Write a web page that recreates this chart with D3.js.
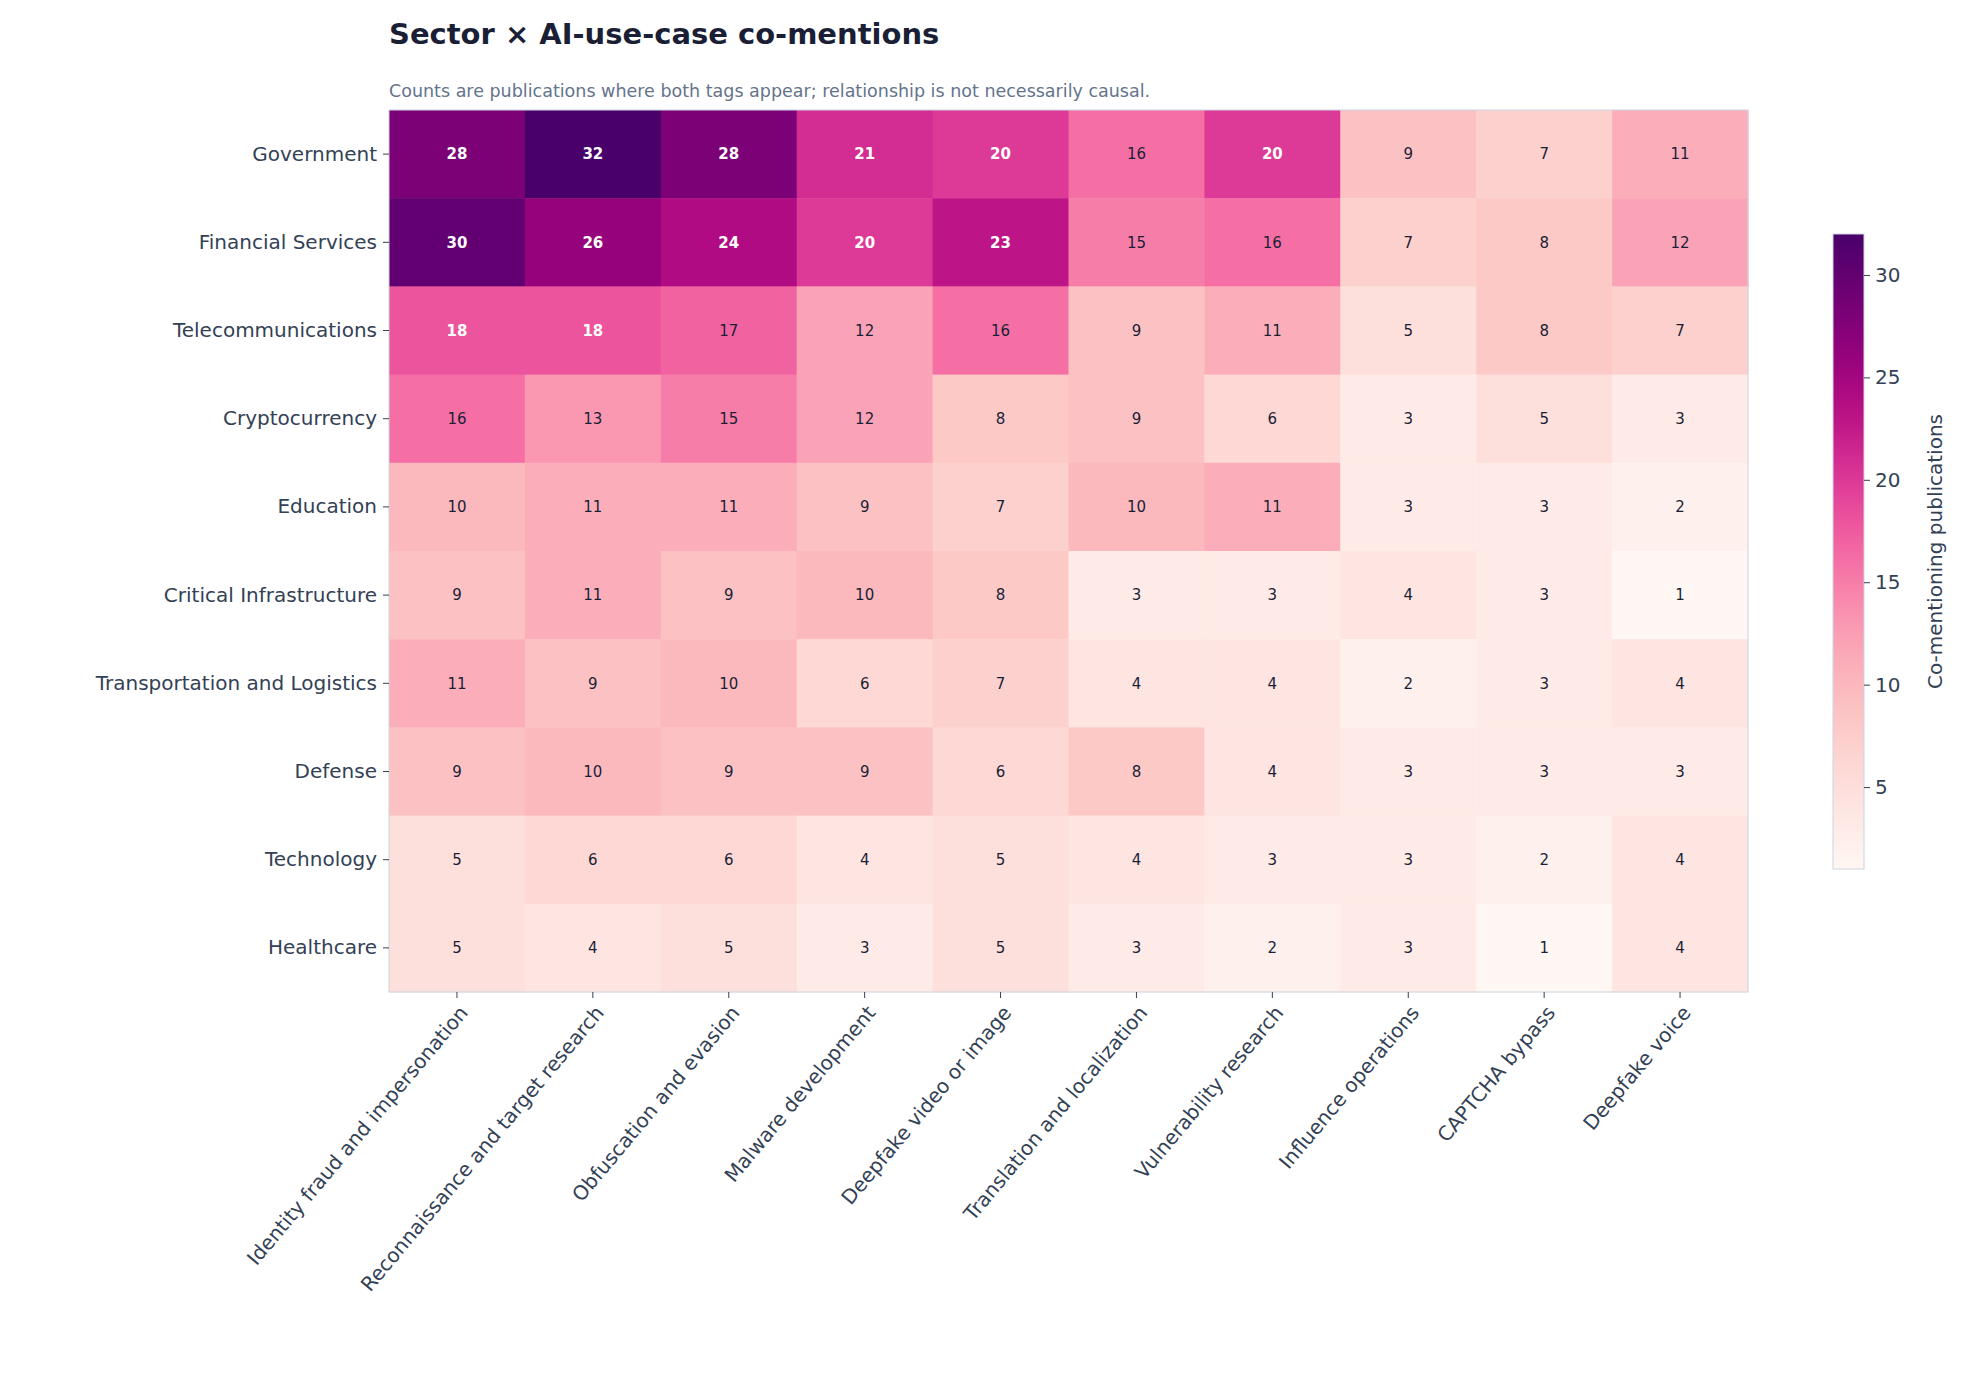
<!DOCTYPE html><html><head><script src="https://cdn.jsdelivr.net/npm/d3@7"></script>
<style>body{margin:0;background:#fff;font-family:"DejaVu Sans",sans-serif}</style></head><body><svg id="c" width="1966" height="1384"></svg>
<script>
const sectors=["Government","Financial Services","Telecommunications","Cryptocurrency","Education","Critical Infrastructure","Transportation and Logistics","Defense","Technology","Healthcare"];
const useCases=["Identity fraud and impersonation","Reconnaissance and target research","Obfuscation and evasion","Malware development","Deepfake video or image","Translation and localization","Vulnerability research","Influence operations","CAPTCHA bypass","Deepfake voice"];
const values=[
[28,32,28,21,20,16,20,9,7,11],
[30,26,24,20,23,15,16,7,8,12],
[18,18,17,12,16,9,11,5,8,7],
[16,13,15,12,8,9,6,3,5,3],
[10,11,11,9,7,10,11,3,3,2],
[9,11,9,10,8,3,3,4,3,1],
[11,9,10,6,7,4,4,2,3,4],
[9,10,9,9,6,8,4,3,3,3],
[5,6,6,4,5,4,3,3,2,4],
[5,4,5,3,5,3,2,3,1,4]];
const cbTicks=[5,10,15,20,25,30];
const svg=d3.select("#c");
const L=389,R=1748,T=110,B=992;
const x=d3.scaleBand().domain(useCases).range([L,R]);
const y=d3.scaleBand().domain(sectors).range([T,B]);
const vmin=1,vmax=32;
const col=d3.scaleSequential(d3.interpolateRdPu).domain([vmin,vmax]);
svg.append("text").attr("x",389).attr("y",44).attr("font-size",29).attr("font-weight","bold").attr("fill","#1a1f36").text("Sector × AI-use-case co-mentions");
svg.append("text").attr("x",389).attr("y",97).attr("font-size",17.5).attr("fill","#64748b").text("Counts are publications where both tags appear; relationship is not necessarily causal.");
const cells=[];values.forEach((r,i)=>r.forEach((v,j)=>cells.push({s:sectors[i],u:useCases[j],v})));
svg.append("g").selectAll("rect").data(cells).join("rect").attr("x",d=>x(d.u)).attr("y",d=>y(d.s)).attr("width",x.bandwidth()+0.5).attr("height",y.bandwidth()+0.5).attr("fill",d=>col(d.v));
svg.append("g").selectAll("text").data(cells).join("text").attr("x",d=>x(d.u)+x.bandwidth()/2).attr("y",d=>y(d.s)+y.bandwidth()/2).attr("dy","0.35em").attr("text-anchor","middle").attr("font-size",15).attr("font-weight",d=>d.v>=18?"bold":"normal").attr("fill",d=>d.v>=18?"#fff":"#1a1f36").text(d=>d.v);
svg.append("rect").attr("x",L).attr("y",T).attr("width",R-L).attr("height",B-T).attr("fill","none").attr("stroke","#cbd5e1");
const ya=svg.append("g").attr("transform",`translate(${L},0)`).call(d3.axisLeft(y).tickSize(6).tickPadding(6));
ya.select(".domain").remove();ya.selectAll("line").attr("stroke","#334155");
ya.selectAll("text").attr("font-size",20).attr("fill","#334155").attr("font-family","DejaVu Sans");
const xa=svg.append("g").attr("transform",`translate(0,${B})`).call(d3.axisBottom(x).tickSize(6).tickPadding(6));
xa.select(".domain").remove();xa.selectAll("line").attr("stroke","#334155");
xa.selectAll("text").attr("font-size",20).attr("fill","#334155").attr("font-family","DejaVu Sans").attr("text-anchor","end").attr("transform","translate(0,6) rotate(-50)").attr("dy","0.35em").attr("dx","-4");
// colorbar
const cx=1833,cw=31,ct=234,cb=869;
const cy=d3.scaleLinear().domain([vmin,vmax]).range([cb,ct]);
const defs=svg.append("defs");const g=defs.append("linearGradient").attr("id","gr").attr("x1",0).attr("x2",0).attr("y1",1).attr("y2",0);
d3.range(0,1.001,0.05).forEach(t=>g.append("stop").attr("offset",t).attr("stop-color",col(vmin+t*(vmax-vmin))));
svg.append("rect").attr("x",cx).attr("y",ct).attr("width",cw).attr("height",cb-ct).attr("fill","url(#gr)").attr("stroke","#cbd5e1");
const ca=svg.append("g").attr("transform",`translate(${cx+cw},0)`).call(d3.axisRight(cy).tickValues(cbTicks).tickSize(6).tickPadding(5));
ca.select(".domain").remove();ca.selectAll("line").attr("stroke","#334155");ca.selectAll("text").attr("font-size",20).attr("fill","#334155").attr("font-family","DejaVu Sans");
svg.append("text").attr("transform",`translate(1942,${(ct+cb)/2}) rotate(-90)`).attr("text-anchor","middle").attr("font-size",20).attr("fill","#334155").text("Co-mentioning publications");
</script></body></html>
